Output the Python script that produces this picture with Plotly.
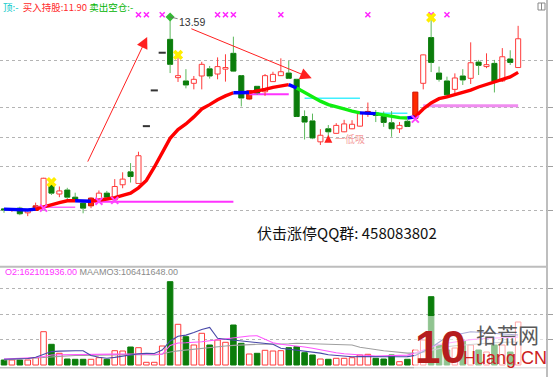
import numpy as np
import plotly.graph_objects as go

# ---------------- data ----------------
OPEN = [8.23, 8.21, 8.25, 8.15, 8.20, 8.28, 8.78, 8.56, 8.65, 8.49,
        8.36, 8.30, 8.41, 8.58, 8.43, 8.77, 9.07, 8.80, 10.22, 11.22,
        12.38, 12.82, 11.60, 11.50, 11.43, 11.65, 11.87, 11.71, 11.86, 12.36,
        11.66, 10.97, 11.34, 11.18, 11.48, 11.66, 11.74, 11.55, 10.48, 10.36,
        9.81, 10.15, 10.03, 10.07, 10.15, 10.22, 10.55, 10.59, 10.48, 10.31,
        10.15, 10.35, 10.43, 11.43, 12.88, 11.74, 11.50, 11.25, 11.65, 11.58,
        12.08, 11.94, 12.04, 11.50, 12.18, 11.91]
HIGH = [8.25, 8.25, 8.28, 8.23, 8.37, 8.93, 8.83, 8.73, 8.70, 8.59,
        8.42, 8.49, 8.64, 8.63, 8.90, 9.06, 9.28, 9.56, 10.22, 11.22,
        12.38, 13.59, 12.31, 11.86, 11.65, 12.09, 11.96, 12.23, 12.33, 12.91,
        11.68, 11.23, 11.35, 11.71, 11.78, 12.20, 12.12, 11.56, 10.65, 10.56,
        10.14, 10.25, 10.30, 10.39, 10.38, 10.57, 10.87, 10.66, 10.62, 10.63,
        10.33, 10.39, 11.17, 12.32, 13.57, 11.94, 11.63, 11.73, 11.86, 12.72,
        12.15, 12.36, 12.15, 12.53, 12.46, 13.28]
LOW = [8.15, 8.17, 8.10, 8.08, 8.19, 8.25, 8.54, 8.49, 8.44, 8.39,
       8.14, 8.25, 8.40, 8.43, 8.42, 8.69, 8.82, 8.80, 10.22, 11.22,
       12.38, 11.74, 11.47, 11.28, 11.25, 11.25, 11.57, 11.55, 11.48, 11.77,
       10.76, 10.94, 11.09, 11.06, 11.47, 11.65, 11.56, 10.47, 9.87, 9.88,
       9.73, 9.96, 10.02, 10.06, 10.14, 10.21, 10.47, 10.33, 10.20, 9.94,
       10.04, 10.20, 10.41, 11.25, 11.77, 11.48, 11.01, 11.14, 11.38, 11.41,
       11.68, 11.89, 11.16, 11.47, 11.99, 11.90]
CLOSE = [8.21, 8.23, 8.13, 8.21, 8.30, 8.92, 8.58, 8.63, 8.49, 8.41,
         8.25, 8.47, 8.58, 8.49, 8.73, 8.90, 8.96, 9.46, 10.22, 11.22,
         12.38, 12.01, 11.66, 11.38, 11.55, 12.01, 11.65, 11.94, 11.91, 11.80,
         11.00, 11.21, 11.13, 11.66, 11.70, 11.78, 11.58, 10.48, 10.33, 9.91,
         9.98, 10.07, 10.24, 10.28, 10.27, 10.56, 10.62, 10.51, 10.32, 10.15,
         10.24, 10.21, 11.17, 12.31, 12.07, 11.55, 11.09, 11.59, 11.53, 12.06,
         11.98, 12.00, 11.49, 12.25, 12.07, 12.84]
# volume (millions of shares)
VOLUME = [10, 10, 10, 10, 14.6, 66.6, 41.4, 23.4, 12, 11.4,
          11.4, 11.4, 14.6, 11.4, 28.6, 28, 36, 34.6, 5.4, 5.4,
          38, 166.6, 81.4, 56.6, 40, 63.4, 40, 50, 45.4, 80,
          43.4, 22, 23.4, 29.4, 28, 28.6, 34.6, 36.6, 24.6, 20,
          12, 11.4, 13.4, 13.4, 14.6, 20, 21.4, 13.4, 12, 20,
          6.6, 11.4, 30, 50, 136.6, 40, 30, 34, 48, 40,
          30, 26, 40, 40, 26, 86]
VOL_MA_BLUE = [11.4, 11.8, 12.2, 13, 15.4, 21.8, 26.8, 27.8, 28.6, 28.6,
               28.4, 19, 15.4, 13.4, 15.2, 18, 21, 22.6, 23.2, 23,
               30, 48, 57.6, 59.8, 65, 71, 75.2, 53.4, 51.6, 50,
               48, 46.2, 44.6, 43, 41.4, 33.4, 31.6, 30, 28.4, 26.6,
               23.8, 20.6, 19, 17.2, 16.6, 16.8, 16.4, 16.6, 16.9, 16.5,
               16.6, 16.7, 19.2, 27.4, 35, 45.6, 56.6, 60, 63.8, 66.6,
               65.4, 64.4, 63.2, 62, 61, 60]
VOL_MA_PINK = [12, 12.4, 12.8, 13.2, 15, 17, 20, 20.4, 20.8, 21.2,
               21.4, 21.4, 21.4, 21.6, 21.8, 22, 22, 21.8, 21.6, 21.4,
               21.4, 39, 44, 44.6, 45, 46.6, 48.4, 50.4, 52.6, 54.8,
               56.6, 58, 58.6, 50.8, 44.6, 41.4, 39.6, 38.6, 36, 33.4,
               30, 26.8, 24.6, 22.4, 21, 20, 19, 18, 18.4, 18.8,
               19.2, 19.8, 24, 29.2, 35.6, 40.8, 43.4, 46.2, 48.8, 50.8,
               52, 53.4, 54, 54.6, 55.2, 56]
VOL_MA_GRAY = [10, 10.8, 11.6, 12.6, 14, 14.8, 16, 17.2, 18.6, 19,
               19.2, 19.6, 20, 20.4, 20.8, 21.2, 21.4, 21.2, 20.6, 20.2,
               22, 26, 28.2, 30, 31.6, 33.2, 34.8, 36.8, 38, 39.2,
               40.4, 41.4, 41.4, 41.4, 41.4, 41.4, 42.4, 43.4, 43, 42.6,
               42.4, 42, 41.6, 41.4, 40, 35.4, 33, 30, 28.6, 27,
               25.4, 23.8, 23.8, 25.4, 29.2, 33.4, 36.6, 38.4, 40, 41.4,
               42.6, 43.6, 44.4, 45.2, 45.8, 46.4]
PRICE_MA = [8.23, 8.22, 8.21, 8.21, 8.23, 8.28, 8.33, 8.37, 8.41, 8.41,
            8.40, 8.40, 8.42, 8.45, 8.48, 8.53, 8.58, 8.70, 8.87, 9.18,
            9.53, 9.90, 10.13, 10.28, 10.47, 10.69, 10.81, 10.95, 11.06, 11.15,
            11.16, 11.16, 11.20, 11.25, 11.31, 11.36, 11.39, 11.29, 11.16, 11.04,
            10.91, 10.81, 10.74, 10.69, 10.63, 10.58, 10.57, 10.56, 10.52, 10.48,
            10.45, 10.44, 10.47, 10.69, 10.86, 10.98, 11.03, 11.09, 11.16, 11.23,
            11.32, 11.39, 11.46, 11.53, 11.62, 11.76]
# trend state of the thick average line: (state, first day, last day)
MA_TREND_RUNS = [("flat", 0, 4), ("up", 4, 9), ("flat", 9, 11), ("up", 11, 29),
                 ("flat", 29, 31), ("up", 31, 36), ("flat", 36, 37), ("down", 37, 45),
                 ("flat", 45, 47), ("down", 47, 51), ("flat", 51, 52), ("up", 52, 65)]
FILLED_UP_DAYS = [4, 11, 31, 46, 52]
TOP_SIGNAL_DAYS = [17, 18, 20, 27, 28, 29, 35, 46, 54, 56]
YELLOW_SIGNAL_DAYS = [6, 22, 54]
PINK_SIGNAL_DAYS = [5, 12, 14, 52]
PEAK_DAY = 21
# support / resistance segments: (first day, last day, price, kind)
SUPPORT_LINES = [(4, 9, 8.27, "pink"), (11, 29, 8.39, "magenta"),
                 (31, 36, 11.11, "magenta"), (38, 45, 10.99, "cyan"),
                 (47, 51, 10.57, "cyan"), (53, 65, 10.78, "violet")]
# trend arrows: (tail day, tail price, head day, head price)
TREND_ARROWS = [(10.5, 9.28, 18.1, 12.90), (23.5, 13.20, 38.9, 11.58)]
DIP_BUY = (41, 9.78, 9.99)   # day, arrow tail price, arrow head price
PRICE_GRID = [8.19, 9.21, 9.93, 10.74, 12.12]
VOL_GRID = [51.4, 101.4, 153.4]
PRICE_RANGE = (7.168, 14.207)
VOL_RANGE = (-6, 196)

TITLE_TOP = ["顶:-", "买入持股:11.90", "卖出空仓:-"]
VOL_TITLE = ["O2:162101936.00", "MAAMO3:106411648.00"]
QQ_TEXT = "伏击涨停QQ群: 458083802"
DIP_TEXT = "一低吸"

# ---------------- helpers ----------------
W, H = 560, 377
def fx(px):
    return px / W
def fy(py):
    return 1 - py / H

lg = np.log10
n = len(OPEN)
days = np.arange(n)
X_RANGE = [-0.506, 68.648]
CJK = "Noto Sans CJK SC, Liberation Sans, sans-serif"
LAT = "Liberation Sans, Arial, sans-serif"

RED_LINE = "#ff3b3b"
RED_FILL = "#ff2a00"
GREEN_FILL = "#0b7d0b"
GREEN_WICK = "#5cb85c"

fig = go.Figure()

# support lines
sup_col = {"pink": "#ff66ff", "magenta": "#ff33ff", "cyan": "#40f0ff", "violet": "#f08cf0"}
sup_w = {"pink": 1.5, "magenta": 2, "cyan": 1.5, "violet": 3}
for s, e, p, kind in SUPPORT_LINES:
    fig.add_trace(go.Scatter(x=[s, e], y=[lg(p), lg(p)], mode="lines",
                             line=dict(color=sup_col[kind], width=sup_w[kind]),
                             hoverinfo="skip"))

# wicks
def wick_xy(sel):
    xs, ys = [], []
    for i in sel:
        top, bot = max(OPEN[i], CLOSE[i]), min(OPEN[i], CLOSE[i])
        if HIGH[i] > top:
            xs += [i, i, None]; ys += [lg(top), lg(HIGH[i]), None]
        if LOW[i] < bot:
            xs += [i, i, None]; ys += [lg(bot), lg(LOW[i]), None]
    return xs, ys

up = [int(i) for i in days if CLOSE[i] > OPEN[i]]
down = [int(i) for i in days if CLOSE[i] < OPEN[i]]
flat = [int(i) for i in days if CLOSE[i] == OPEN[i]]
hollow = [i for i in up if i not in FILLED_UP_DAYS]

wx, wy = wick_xy(up)
fig.add_trace(go.Scatter(x=wx, y=wy, mode="lines", line=dict(color=RED_LINE, width=1), hoverinfo="skip"))
wx, wy = wick_xy(down)
fig.add_trace(go.Scatter(x=wx, y=wy, mode="lines", line=dict(color=GREEN_WICK, width=1), hoverinfo="skip"))

MIN_BODY = 0.0013
def body(sel):
    base = [lg(min(OPEN[i], CLOSE[i])) for i in sel]
    hgt = [max(lg(max(OPEN[i], CLOSE[i])) - lg(min(OPEN[i], CLOSE[i])), MIN_BODY) for i in sel]
    return base, hgt

b, h = body(hollow)
fig.add_trace(go.Bar(x=hollow, y=h, base=b, width=0.64,
                     marker=dict(color="white", line=dict(color=RED_LINE, width=1)), hoverinfo="skip"))
b, h = body(FILLED_UP_DAYS)
fig.add_trace(go.Bar(x=FILLED_UP_DAYS, y=h, base=b, width=0.64,
                     marker=dict(color=RED_FILL, line=dict(color="#d01000", width=1)), hoverinfo="skip"))
b, h = body(down)
fig.add_trace(go.Bar(x=down, y=h, base=b, width=0.64,
                     marker=dict(color=GREEN_FILL, line=dict(color=GREEN_FILL, width=1)), hoverinfo="skip"))
# one-price (limit) days drawn as dashes
dx, dy = [], []
for i in flat:
    dx += [i - 0.45, i + 0.45, None]; dy += [lg(CLOSE[i]), lg(CLOSE[i]), None]
fig.add_trace(go.Scatter(x=dx, y=dy, mode="lines", line=dict(color="#333333", width=2), hoverinfo="skip"))

# thick trend average
trend_col = {"up": "#ff0000", "down": "#10ee10", "flat": "#0000ff"}
for state, s, e in MA_TREND_RUNS:
    fig.add_trace(go.Scatter(x=list(range(s, e + 1)), y=lg(PRICE_MA[s:e + 1]), mode="lines",
                             line=dict(color=trend_col[state], width=3.4), hoverinfo="skip"))

# signal markers
ylo, yhi = lg(PRICE_RANGE[0]), lg(PRICE_RANGE[1])
top_row = yhi - 14.7 / 262 * (yhi - ylo)
fig.add_trace(go.Scatter(x=TOP_SIGNAL_DAYS, y=[top_row] * len(TOP_SIGNAL_DAYS), mode="markers",
                         marker=dict(symbol="x-thin-open", size=5, color="#ff22ff",
                                     line=dict(color="#ff22ff", width=1.5)),
                         hoverinfo="skip"))
fig.add_trace(go.Scatter(x=YELLOW_SIGNAL_DAYS, y=[lg(HIGH[i]) for i in YELLOW_SIGNAL_DAYS], mode="markers",
                         marker=dict(symbol="x", size=9, color="#ffee00"), hoverinfo="skip"))
fig.add_trace(go.Scatter(x=PINK_SIGNAL_DAYS, y=[lg(LOW[i]) for i in PINK_SIGNAL_DAYS], mode="markers",
                         marker=dict(symbol="x-thin-open", size=7, color="#ff44ff",
                                     line=dict(color="#ff44ff", width=2)),
                         hoverinfo="skip"))
fig.add_trace(go.Scatter(x=[PEAK_DAY], y=[lg(HIGH[PEAK_DAY])], mode="markers",
                         marker=dict(symbol="diamond", size=7, color="#33bb33"), hoverinfo="skip"))

# ---------------- volume panel ----------------
vup = [int(i) for i in days if CLOSE[i] >= OPEN[i]]
vdn = [int(i) for i in days if CLOSE[i] < OPEN[i]]
fig.add_trace(go.Bar(x=vup, y=[VOLUME[i] for i in vup], width=0.7, xaxis="x2", yaxis="y2",
                     marker=dict(color="white", line=dict(color=RED_LINE, width=1)), hoverinfo="skip"))
fig.add_trace(go.Bar(x=vdn, y=[VOLUME[i] for i in vdn], width=0.7, xaxis="x2", yaxis="y2",
                     marker=dict(color=GREEN_FILL, line=dict(color=GREEN_FILL, width=1)), hoverinfo="skip"))
for ser, col in [(VOL_MA_GRAY, "#a0a0a0"), (VOL_MA_PINK, "#ff55ff"), (VOL_MA_BLUE, "#4848a8")]:
    fig.add_trace(go.Scatter(x=list(range(n)), y=ser, mode="lines", xaxis="x2", yaxis="y2",
                             line=dict(color=col, width=1.1), hoverinfo="skip"))

# ---------------- layout ----------------
axis_common = dict(showticklabels=False, ticks="outside", ticklen=5, tickcolor="#a0a0a0",
                   showgrid=True, gridcolor="#b4b4b4", griddash="dot", gridwidth=1,
                   zeroline=False, showline=False, side="right", fixedrange=True)
fig.update_layout(
    width=W, height=H, margin=dict(l=0, r=0, t=0, b=0),
    paper_bgcolor="white", plot_bgcolor="white", showlegend=False,
    barmode="overlay", hovermode=False,
    xaxis=dict(domain=[0, fx(547)], range=X_RANGE, visible=False, fixedrange=True),
    xaxis2=dict(domain=[0, fx(547)], range=X_RANGE, visible=False, anchor="y2", fixedrange=True),
    yaxis=dict(domain=[fy(262), fy(0)], range=[ylo, yhi], tickvals=list(lg(PRICE_GRID)),
               anchor="x", **axis_common),
    yaxis2=dict(domain=[fy(368), fy(267)], range=list(VOL_RANGE), tickvals=VOL_GRID,
                anchor="x2", **axis_common),
)

shapes = [
    dict(type="line", xref="paper", yref="paper", x0=fx(547), x1=fx(547), y0=0, y1=1,
         line=dict(color="#a8a8a8", width=1.5)),
    dict(type="line", xref="paper", yref="paper", x0=0, x1=fx(547), y0=fy(266.7), y1=fy(266.7),
         line=dict(color="#bdbdbd", width=2)),
    dict(type="line", xref="paper", yref="paper", x0=0, x1=fx(547), y0=fy(367.7), y1=fy(367.7),
         line=dict(color="#bdbdbd", width=1.5)),
    dict(type="rect", xref="paper", yref="paper", x0=fx(538), x1=fx(545), y0=fy(10), y1=fy(3),
         line=dict(color="#888888", width=1)),
    dict(type="line", xref="paper", yref="paper", x0=fx(541.5), x1=fx(541.5), y0=fy(10), y1=fy(3),
         line=dict(color="#888888", width=1)),
    # soft white plate under the watermark
    dict(type="rect", xref="paper", yref="paper", x0=fx(414), x1=fx(546), y0=fy(372), y1=fy(316),
         fillcolor="rgba(255,255,255,0.55)", line=dict(width=0), layer="above"),
]
fig.update_layout(shapes=shapes)

ann = []
ann.append(dict(xref="paper", yref="paper", x=fx(1), y=fy(6.5), xanchor="left", yanchor="middle",
                showarrow=False, font=dict(family=CJK, size=9.5),
                text=(f"<span style='color:#00c8c8'>{TITLE_TOP[0]}</span>  "
                      f"<span style='color:#ff2a2a'>{TITLE_TOP[1]}</span> "
                      f"<span style='color:#00b400'>{TITLE_TOP[2]}</span>")))
ann.append(dict(xref="paper", yref="paper", x=fx(2.5), y=fy(272), xanchor="left", yanchor="middle",
                showarrow=False, font=dict(family=LAT, size=9),
                text=(f"<span style='color:#ff33ff'>{VOL_TITLE[0]}</span> "
                      f"<span style='color:#8a8a8a'>{VOL_TITLE[1]}</span>")))
ann.append(dict(xref="paper", yref="paper", x=fx(255), y=fy(232), xanchor="left", yanchor="middle",
                showarrow=False, font=dict(family=CJK, size=15, color="#111111"), text=QQ_TEXT))
# peak label
ann.append(dict(xref="x", yref="y", x=PEAK_DAY, y=lg(HIGH[PEAK_DAY]), text=f"{HIGH[PEAK_DAY]:.2f}",
                showarrow=True, arrowhead=0, arrowwidth=0.8, arrowcolor="#666666",
                ax=22, ay=5, font=dict(family=LAT, size=10.5, color="#333333")))
# trend arrows
for tx, tp, hx, hp in TREND_ARROWS:
    ann.append(dict(xref="x", yref="y", axref="x", ayref="y", x=hx, y=lg(hp), ax=tx, ay=lg(tp),
                    text="", showarrow=True, arrowhead=2, arrowsize=2.3, arrowwidth=1,
                    arrowcolor="#ff2020"))
d, tp, hp = DIP_BUY
ann.append(dict(xref="x", yref="y", axref="x", ayref="y", x=d, y=lg(hp), ax=d, ay=lg(tp),
                text="", showarrow=True, arrowhead=2, arrowsize=0.8, arrowwidth=2,
                arrowcolor="#ff2020"))
ann.append(dict(xref="x", yref="y", x=d + 0.55, y=lg((tp + hp) / 2), xanchor="left", yanchor="middle",
                showarrow=False, text=DIP_TEXT, font=dict(family=CJK, size=10, color="#f4a0a0")))
# watermark
ann.append(dict(xref="paper", yref="paper", x=fx(440), y=fy(347), xanchor="center", yanchor="middle",
                showarrow=False, text="<b>10</b>", font=dict(family=LAT, size=46, color="#b51d1d")))
ann.append(dict(xref="paper", yref="paper", x=fx(507), y=fy(334), xanchor="center", yanchor="middle",
                showarrow=False, text="拾荒网", font=dict(family=CJK, size=21, color="#5a5a5a")))
ann.append(dict(xref="paper", yref="paper", x=fx(505), y=fy(358), xanchor="center", yanchor="middle",
                showarrow=False, text="Huang.CN", font=dict(family=LAT, size=18, color="#cc2020")))
fig.update_layout(annotations=ann)

fig.write_html("out.html", config={"displayModeBar": False, "staticPlot": True},
               post_script="document.body.style.margin='0px';document.body.style.overflow='hidden';")
